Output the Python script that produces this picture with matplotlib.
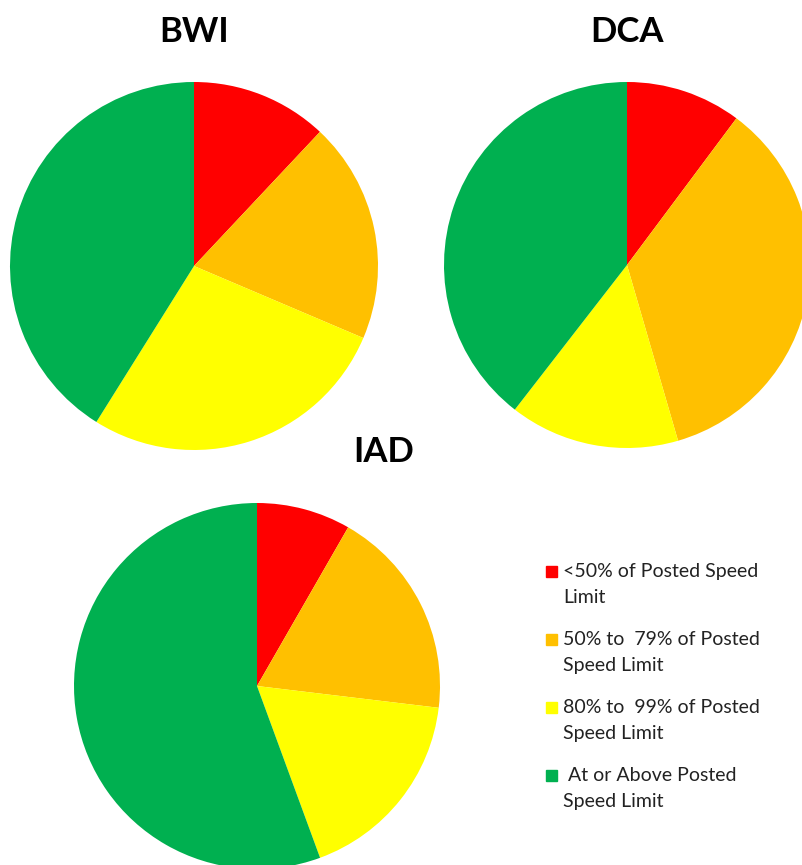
import matplotlib.pyplot as plt
from matplotlib.patches import Rectangle

# share of vehicles (%) by speed band
categories = ['<50% of Posted Speed\nLimit',
              '50% to  79% of Posted\nSpeed Limit',
              '80% to  99% of Posted\nSpeed Limit',
              ' At or Above Posted\nSpeed Limit']
bwi = [12.0, 19.4, 27.5, 41.1]
dca = [10.2, 35.3, 15.0, 39.5]
iad = [8.3, 18.6, 17.5, 55.6]
colors = ['#FF0000', '#FFC000', '#FFFF00', '#00B050']

W, H = 802, 865
plt.rcParams['font.family'] = ['Lato', 'DejaVu Sans']
fig = plt.figure(figsize=(W / 100, H / 100), dpi=100)


def pie_at(cx, cy, r, values, title, tx, ty):
    ax = fig.add_axes([(cx - r) / W, (H - cy - r) / H, 2 * r / W, 2 * r / H])
    ax.pie(values, colors=colors, startangle=90, counterclock=False,
           wedgeprops=dict(linewidth=0))
    ax.set_xlim(-1, 1)
    ax.set_ylim(-1, 1)
    ax.set_aspect('equal')
    ax.axis('off')
    fig.text(tx / W, 1 - ty / H, title, ha='center', va='center',
             fontsize=25, fontweight='bold', color='black')


pie_at(194, 266, 184, bwi, 'BWI', 194, 32)
pie_at(627, 265, 183, dca, 'DCA', 627, 32)
pie_at(257, 686, 183, iad, 'IAD', 384, 452)

# legend: square next to the first line, label wrapped on two lines
for i, (lab, c) in enumerate(zip(categories, colors)):
    base = 577 + i * 68
    fig.patches.append(Rectangle((546 / W, 1 - (base) / H), 11 / W, 11 / H,
                                 transform=fig.transFigure, color=c))
    for j, line in enumerate(lab.split('\n')):
        fig.text(563 / W, 1 - (base + j * 26) / H, line, ha='left',
                 va='baseline', fontsize=14, color='#222222')

plt.savefig('out.png', dpi=100)
